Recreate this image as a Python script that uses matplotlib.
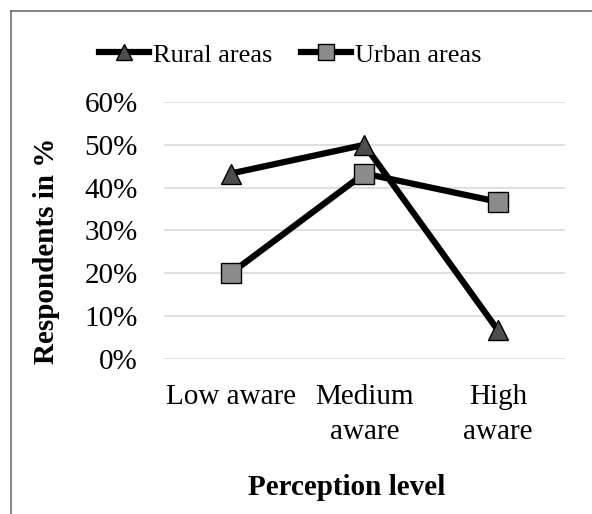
import matplotlib.pyplot as plt
from matplotlib.lines import Line2D
from matplotlib.ticker import FuncFormatter

categories = ['Low aware', 'Medium\naware', 'High\naware']
rural = [43.3, 50.0, 6.7]
urban = [20.0, 43.3, 36.7]
y_ticks = [0, 10, 20, 30, 40, 50, 60]

plt.rcParams['font.family'] = ['Liberation Serif', 'DejaVu Serif']

fig = plt.figure(figsize=(5.92, 5.14), dpi=100)
ax = fig.add_axes([0.277, 0.3016, 0.677, 0.5])

x = list(range(len(categories)))
ax.plot(x, rural, color='black', lw=4.5, marker='^', markersize=15,
        markerfacecolor='#4d4d4d', markeredgecolor='black', markeredgewidth=1,
        label='Rural areas', zorder=3)
ax.plot(x, urban, color='black', lw=4.5, marker='s', markersize=14,
        markerfacecolor='#8c8c8c', markeredgecolor='black', markeredgewidth=1,
        label='Urban areas', zorder=3)

ax.set_xlim(-0.5, 2.5)
ax.set_ylim(0, 60)
ax.set_yticks(y_ticks)
ax.yaxis.set_major_formatter(FuncFormatter(lambda v, p: f'{v:.0f}%'))
ax.set_xticks(x)
ax.set_xticklabels(categories, linespacing=1.45)
ax.tick_params(axis='y', length=0, pad=19, labelsize=21)
ax.tick_params(axis='x', length=0, pad=18, labelsize=21)
ax.grid(axis='y', color='#d9d9d9', lw=1.2)
ax.set_axisbelow(True)
for s in ax.spines.values():
    s.set_visible(False)

fig.text(0.078, 0.512, 'Respondents in %', rotation=90, ha='center', va='center',
         fontsize=21, fontweight='bold')
fig.text(0.585, 0.052, 'Perception level', ha='center', va='center',
         fontsize=21, fontweight='bold')

fig.legend(loc='center', bbox_to_anchor=(0.49, 0.893), ncol=2, frameon=False,
           fontsize=19, handlelength=1.9, handletextpad=0.15, columnspacing=1.1,
           markerscale=0.8)

# chart frame: only top and left edges are visible in the original
x0, y0 = 10.5 / 592, 1 - 10.5 / 514
fig.lines.append(Line2D([x0, 1], [y0, y0], transform=fig.transFigure,
                        color='#6e6e6e', lw=1.2))
fig.lines.append(Line2D([x0, x0], [0, y0], transform=fig.transFigure,
                        color='#6e6e6e', lw=1.2))

fig.savefig('out.png', dpi=100)
